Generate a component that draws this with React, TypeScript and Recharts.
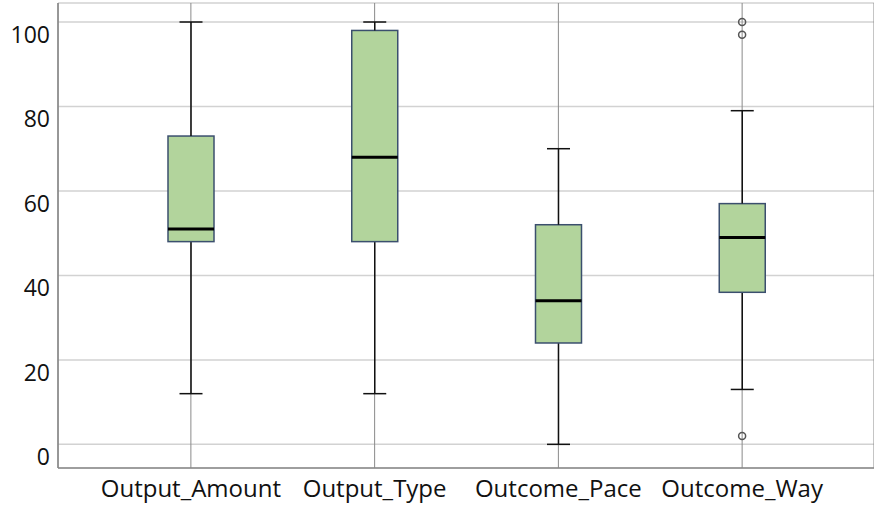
import React from "react";
import { ComposedChart, Bar, Line, XAxis, YAxis, CartesianGrid } from "recharts";

// box plot values
const categories = ["Output_Amount", "Output_Type", "Outcome_Pace", "Outcome_Way"];
const minVals = [12, 12, 0, 13];
const q1Vals = [48, 48, 24, 36];
const medianVals = [51, 68, 34, 49];
const q3Vals = [73, 98, 52, 57];
const maxVals = [100, 100, 70, 79];
const outlierVals: number[][] = [[], [], [], [100, 97, 2]];
const yTicks = [0, 20, 40, 60, 80, 100];

const data = categories.map((name, i) => ({
  name,
  base: minVals[i],
  lowWhisker: q1Vals[i] - minVals[i],
  box: q3Vals[i] - q1Vals[i],
  highWhisker: maxVals[i] - q3Vals[i],
  median: medianVals[i],
  q1: q1Vals[i],
  q3: q3Vals[i],
  o0: outlierVals[i][0] ?? null,
  o1: outlierVals[i][1] ?? null,
  o2: outlierVals[i][2] ?? null,
}));

const FONT = "'Open Sans', sans-serif";
const CAP = 23;

const Empty = () => <g />;

const LowWhisker = (props: any) => {
  const { x, y, width, height } = props;
  const cx = x + width / 2;
  return (
    <g stroke="#111" strokeWidth={1.5}>
      <line x1={cx} x2={cx} y1={y} y2={y + height} />
      <line x1={cx - CAP / 2} x2={cx + CAP / 2} y1={y + height} y2={y + height} />
    </g>
  );
};

const HighWhisker = (props: any) => {
  const { x, y, width, height } = props;
  const cx = x + width / 2;
  return (
    <g stroke="#111" strokeWidth={1.5}>
      <line x1={cx} x2={cx} y1={y} y2={y + height} />
      <line x1={cx - CAP / 2} x2={cx + CAP / 2} y1={y} y2={y} />
    </g>
  );
};

const BoxShape = (props: any) => {
  const { x, y, width, height, payload } = props;
  const my = y + (height * (payload.q3 - payload.median)) / (payload.q3 - payload.q1);
  return (
    <g>
      <rect x={x} y={y} width={width} height={height} fill="#b2d49c" stroke="#3b4f6e" strokeWidth={1.5} />
      <line x1={x} x2={x + width} y1={my} y2={my} stroke="#000" strokeWidth={3} />
    </g>
  );
};

const YTick = (props: any) => {
  const { x, y, payload } = props;
  return (
    <text x={x - 8} y={y + 21} textAnchor="end" fontFamily={FONT} fontSize={23} fill="#111">
      {payload.value}
    </text>
  );
};

const XTick = (props: any) => {
  const { x, y, payload } = props;
  return (
    <text x={x} y={y + 29} textAnchor="middle" fontFamily={FONT} fontSize={24} fill="#111">
      {payload.value}
    </text>
  );
};

const outlierDot = { r: 3.5, stroke: "#555", strokeWidth: 1.5, fill: "none" };

export default function App() {
  return (
    <div style={{ position: "absolute", left: 0, top: 0, background: "#fff" }}>
      <ComposedChart width={874} height={505} data={data} margin={{ top: 3, right: 0, bottom: 0, left: 0 }}>
        <CartesianGrid vertical={false} stroke="#d2d2d2" strokeWidth={1.5} />
        <CartesianGrid horizontal={false} stroke="#8a8a8a" strokeWidth={1} />
        <XAxis
          dataKey="name"
          height={37}
          padding={{ left: 41, right: 40 }}
          tickLine={false}
          tickSize={0}
          tickMargin={0}
          axisLine={{ stroke: "#888", strokeWidth: 1.5 }}
          tick={<XTick />}
          interval={0}
        />
        <YAxis
          type="number"
          domain={[-5.6, 104.5]}
          ticks={yTicks}
          allowDataOverflow
          width={58}
          tickLine={false}
          tickSize={0}
          tickMargin={0}
          axisLine={{ stroke: "#888", strokeWidth: 1.5 }}
          tick={<YTick />}
        />
        <Bar dataKey="base" stackId="a" barSize={46} shape={<Empty />} isAnimationActive={false} />
        <Bar dataKey="lowWhisker" stackId="a" barSize={46} shape={<LowWhisker />} isAnimationActive={false} />
        <Bar dataKey="box" stackId="a" barSize={46} shape={<BoxShape />} isAnimationActive={false} />
        <Bar dataKey="highWhisker" stackId="a" barSize={46} shape={<HighWhisker />} isAnimationActive={false} />
        <Line dataKey="o0" stroke="none" dot={outlierDot} activeDot={false} isAnimationActive={false} />
        <Line dataKey="o1" stroke="none" dot={outlierDot} activeDot={false} isAnimationActive={false} />
        <Line dataKey="o2" stroke="none" dot={outlierDot} activeDot={false} isAnimationActive={false} />
      </ComposedChart>
    </div>
  );
}
